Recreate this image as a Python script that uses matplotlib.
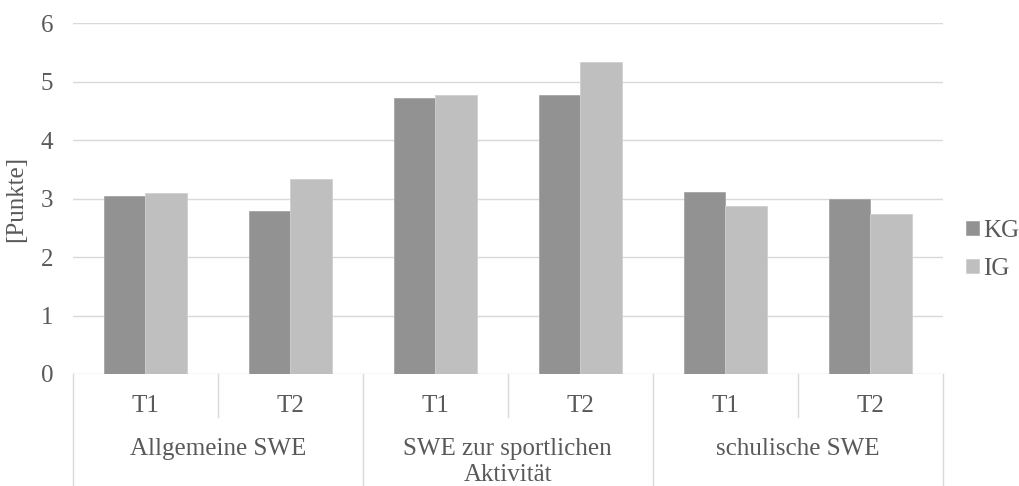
import matplotlib.pyplot as plt
import matplotlib.transforms as mtransforms
import numpy as np

plt.rcParams['font.family'] = ['Liberation Serif', 'DejaVu Serif']

groups = ['Allgemeine SWE', 'SWE zur sportlichen\nAktivität', 'schulische SWE']
times = ['T1', 'T2']
kg = [3.05, 2.79, 4.73, 4.77, 3.11, 2.99]
ig = [3.10, 3.34, 4.77, 5.33, 2.88, 2.73]

text_col = '#595959'
line_col = '#d9d9d9'
fs = 18

fig = plt.figure(figsize=(10.19, 4.86), dpi=100)
ax = fig.add_axes([0.0713, 0.2305, 0.8537, 0.7215])

x = np.arange(len(kg))
w = 0.286
ax.bar(x - w / 2, kg, w, color='#929292', edgecolor='#a6a6a6', linewidth=0.6, label='KG', zorder=3)
ax.bar(x + w / 2, ig, w, color='#bfbfbf', edgecolor='#cfcfcf', linewidth=0.6, label='IG', zorder=3)

ax.set_xlim(-0.5, len(kg) - 0.5)
ax.set_ylim(0, 6)
ax.set_yticks(range(7))
ax.yaxis.grid(True, color=line_col, linewidth=1, zorder=0)
ax.set_xticks([])
for s in ax.spines.values():
    s.set_visible(False)
ax.tick_params(axis='y', length=0, labelsize=fs, labelcolor=text_col, pad=14)
fig.text(16 / 1019, 0.591, '[Punkte]', rotation=90, ha='center', va='center',
         fontsize=fs, color=text_col)

# two-level category axis below the plot
trans = mtransforms.blended_transform_factory(ax.transData, ax.transAxes)
for xs in [-0.5, 1.5, 3.5, 5.5]:
    ax.plot([xs, xs], [0, -0.32], transform=trans, color=line_col, lw=1, clip_on=False)
for xs in [0.5, 2.5, 4.5]:
    ax.plot([xs, xs], [0, -0.1226], transform=trans, color=line_col, lw=1, clip_on=False)

for i in x:
    ax.text(i, -0.09, times[i % 2], transform=trans, ha='center', va='center',
            fontsize=fs, color=text_col)
for j, g in enumerate(groups):
    ax.text(2 * j + 0.5, -0.184, g, transform=trans, ha='center', va='top',
            fontsize=fs, color=text_col, linespacing=1.2)

fig.legend(loc='center left', bbox_to_anchor=(0.948, 0.486), frameon=False,
           fontsize=fs, labelcolor=text_col, handlelength=0.5, handleheight=0.5,
           handletextpad=0.2, labelspacing=0.62, borderaxespad=0, borderpad=0)

fig.savefig('out.png', dpi=100)
